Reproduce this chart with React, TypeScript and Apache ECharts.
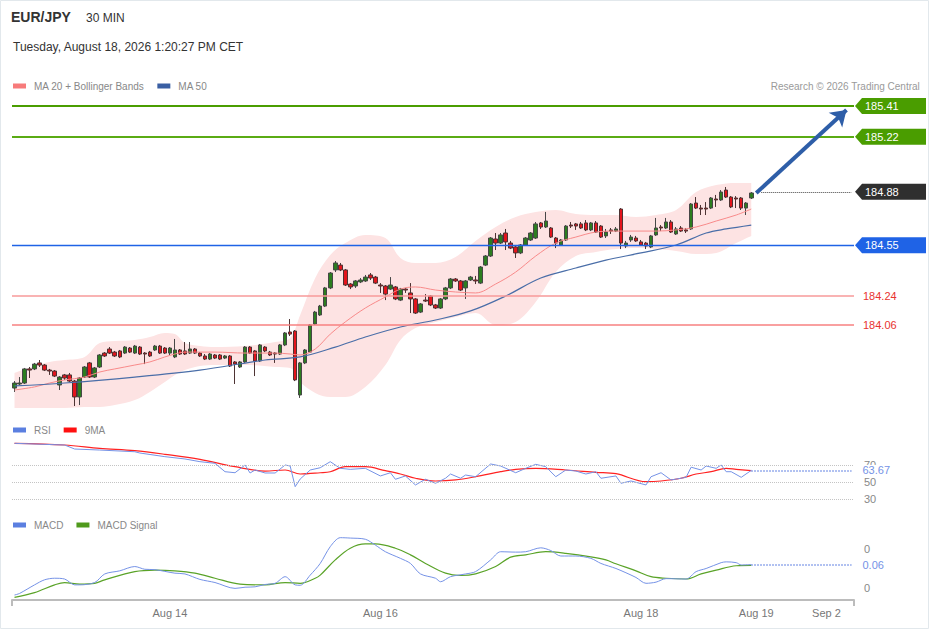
import React, { useEffect, useRef } from "react";
import * as echarts from "echarts";

const FONT = '"Liberation Sans", Arial, Helvetica, sans-serif';

// ---------- axis categories / tick labels ----------
const categoryCount = 168;
const dateLabels = ["Aug 14", "Aug 16", "Aug 18", "Aug 19", "Sep 2"];
const dateLabelIdx = [31, 73, 125, 148, 162];

// ---------- price candles: [open, close, low, high] ----------
const candles = [
  [183.669, 183.700, 183.645, 183.712], [183.694, 183.700, 183.688, 183.737], [183.700, 183.787, 183.694, 183.793],
  [183.787, 183.780, 183.731, 183.799], [183.787, 183.817, 183.780, 183.824], [183.824, 183.811, 183.799, 183.842],
  [183.811, 183.780, 183.774, 183.817], [183.780, 183.774, 183.750, 183.787], [183.774, 183.743, 183.737, 183.780],
  [183.688, 183.737, 183.657, 183.743], [183.750, 183.731, 183.719, 183.756], [183.750, 183.712, 183.706, 183.762],
  [183.712, 183.614, 183.558, 183.719], [183.614, 183.731, 183.564, 183.737], [183.737, 183.799, 183.731, 183.805],
  [183.824, 183.737, 183.731, 183.830], [183.737, 183.793, 183.731, 183.799], [183.799, 183.873, 183.793, 183.879],
  [183.885, 183.867, 183.861, 183.891], [183.910, 183.885, 183.879, 183.922], [183.891, 183.867, 183.861, 183.898],
  [183.898, 183.861, 183.854, 183.904], [183.885, 183.922, 183.879, 183.928], [183.916, 183.891, 183.885, 183.922],
  [183.885, 183.928, 183.879, 183.935], [183.922, 183.879, 183.873, 183.928], [183.885, 183.879, 183.817, 183.891],
  [183.891, 183.867, 183.861, 183.898], [183.904, 183.928, 183.898, 183.935], [183.928, 183.885, 183.879, 183.935],
  [183.916, 183.885, 183.879, 183.922], [183.885, 183.916, 183.873, 183.922], [183.861, 183.904, 183.854, 183.972],
  [183.904, 183.879, 183.873, 183.910], [183.898, 183.879, 183.873, 183.953], [183.885, 183.910, 183.879, 183.953],
  [183.910, 183.885, 183.879, 183.916], [183.885, 183.867, 183.861, 183.891], [183.867, 183.848, 183.842, 183.879],
  [183.848, 183.879, 183.842, 183.885], [183.873, 183.854, 183.848, 183.879], [183.873, 183.848, 183.842, 183.879],
  [183.854, 183.867, 183.848, 183.873], [183.867, 183.805, 183.799, 183.873], [183.830, 183.817, 183.694, 183.836],
  [183.799, 183.830, 183.793, 183.836], [183.830, 183.922, 183.824, 183.928], [183.922, 183.885, 183.879, 183.928],
  [183.898, 183.836, 183.743, 183.904], [183.836, 183.935, 183.830, 183.941], [183.922, 183.898, 183.891, 183.928],
  [183.891, 183.873, 183.867, 183.898], [183.885, 183.879, 183.824, 183.891], [183.879, 183.935, 183.873, 183.941],
  [183.935, 184.009, 183.928, 184.015], [184.015, 184.002, 183.990, 184.095], [184.021, 183.719, 183.712, 184.027],
  [183.626, 183.824, 183.608, 183.830], [183.824, 183.904, 183.817, 183.910], [183.891, 184.058, 183.885, 184.064],
  [184.064, 184.138, 184.058, 184.145], [184.120, 184.175, 184.114, 184.182], [184.175, 184.287, 184.169, 184.293],
  [184.287, 184.379, 184.280, 184.385], [184.398, 184.441, 184.385, 184.453], [184.428, 184.398, 184.391, 184.441],
  [184.398, 184.305, 184.299, 184.404], [184.311, 184.293, 184.280, 184.317], [184.299, 184.330, 184.287, 184.336],
  [184.324, 184.336, 184.317, 184.348], [184.330, 184.354, 184.324, 184.367], [184.367, 184.348, 184.336, 184.379],
  [184.354, 184.317, 184.311, 184.361], [184.305, 184.299, 184.256, 184.317], [184.299, 184.249, 184.212, 184.305],
  [184.280, 184.305, 184.274, 184.354], [184.293, 184.219, 184.212, 184.299], [184.212, 184.280, 184.206, 184.287],
  [184.280, 184.274, 184.256, 184.287], [184.256, 184.219, 184.132, 184.317], [184.219, 184.132, 184.126, 184.225],
  [184.138, 184.188, 184.132, 184.194], [184.212, 184.206, 184.200, 184.249], [184.237, 184.182, 184.175, 184.243],
  [184.182, 184.163, 184.157, 184.188], [184.163, 184.219, 184.157, 184.225], [184.219, 184.287, 184.212, 184.293],
  [184.287, 184.342, 184.280, 184.348], [184.342, 184.330, 184.324, 184.348], [184.330, 184.274, 184.268, 184.336],
  [184.287, 184.330, 184.219, 184.336], [184.336, 184.354, 184.330, 184.361], [184.336, 184.330, 184.311, 184.361],
  [184.317, 184.416, 184.311, 184.422], [184.428, 184.484, 184.422, 184.490], [184.484, 184.595, 184.478, 184.601],
  [184.589, 184.564, 184.521, 184.626], [184.564, 184.614, 184.558, 184.626], [184.626, 184.571, 184.521, 184.651],
  [184.564, 184.533, 184.527, 184.577], [184.540, 184.503, 184.472, 184.546], [184.503, 184.552, 184.496, 184.558],
  [184.552, 184.595, 184.546, 184.601], [184.583, 184.626, 184.577, 184.632], [184.595, 184.682, 184.589, 184.694],
  [184.688, 184.663, 184.651, 184.694], [184.663, 184.700, 184.657, 184.756], [184.657, 184.601, 184.595, 184.663],
  [184.595, 184.564, 184.533, 184.601], [184.552, 184.583, 184.546, 184.589], [184.583, 184.669, 184.577, 184.675],
  [184.675, 184.669, 184.657, 184.694], [184.682, 184.669, 184.645, 184.688], [184.682, 184.657, 184.651, 184.694],
  [184.688, 184.645, 184.638, 184.706], [184.645, 184.688, 184.638, 184.694], [184.688, 184.632, 184.626, 184.700],
  [184.669, 184.601, 184.595, 184.675], [184.608, 184.632, 184.595, 184.651], [184.645, 184.638, 184.620, 184.657],
  [184.638, 184.651, 184.632, 184.663], [184.774, 184.564, 184.527, 184.780], [184.546, 184.564, 184.533, 184.577],
  [184.583, 184.601, 184.571, 184.614], [184.595, 184.577, 184.571, 184.608], [184.571, 184.552, 184.546, 184.583],
  [184.564, 184.546, 184.527, 184.571], [184.540, 184.608, 184.533, 184.614], [184.614, 184.657, 184.608, 184.719],
  [184.663, 184.657, 184.638, 184.675], [184.657, 184.694, 184.651, 184.719], [184.694, 184.632, 184.626, 184.706],
  [184.620, 184.651, 184.614, 184.663], [184.657, 184.638, 184.632, 184.669], [184.645, 184.638, 184.626, 184.657],
  [184.651, 184.805, 184.645, 184.811], [184.811, 184.780, 184.774, 184.848], [184.780, 184.774, 184.737, 184.799],
  [184.780, 184.774, 184.737, 184.817], [184.780, 184.842, 184.774, 184.848], [184.836, 184.830, 184.787, 184.861],
  [184.830, 184.879, 184.824, 184.891], [184.891, 184.848, 184.842, 184.910], [184.848, 184.787, 184.780, 184.854],
  [184.842, 184.836, 184.780, 184.854], [184.842, 184.780, 184.768, 184.848], [184.780, 184.811, 184.737, 184.817],
  [184.842, 184.873, 184.836, 184.879],
];

// ---------- Bollinger bands / MA20 (read at these candle indices) ----------
const bbIdx = [0, 4, 7, 10, 14, 17, 20, 24, 27, 30, 32, 34, 37, 40, 46, 52, 55, 57, 60, 63, 66, 70, 74, 77, 80, 84, 88, 92, 96, 100, 104, 108, 112, 116, 120, 124, 128, 132, 136, 140, 144, 147];
const bbUpper = [183.762, 183.805, 183.830, 183.842, 183.861, 183.947, 183.959, 183.966, 183.984, 184.009, 184.002, 183.947, 183.928, 183.922, 183.928, 183.953, 183.978, 184.120, 184.348, 184.490, 184.564, 184.614, 184.595, 184.472, 184.441, 184.441, 184.478, 184.577, 184.663, 184.725, 184.756, 184.768, 184.743, 184.737, 184.737, 184.725, 184.737, 184.768, 184.879, 184.922, 184.935, 184.935];
const bbLower = [183.546, 183.546, 183.546, 183.546, 183.552, 183.552, 183.564, 183.595, 183.645, 183.706, 183.750, 183.780, 183.805, 183.811, 183.811, 183.799, 183.793, 183.706, 183.639, 183.614, 183.614, 183.676, 183.811, 183.966, 184.040, 184.077, 184.108, 184.132, 184.058, 184.077, 184.200, 184.385, 184.484, 184.509, 184.527, 184.533, 184.527, 184.515, 184.496, 184.503, 184.564, 184.608];
const ma20 = [183.657, 183.676, 183.700, 183.719, 183.737, 183.768, 183.787, 183.811, 183.830, 183.861, 183.879, 183.891, 183.891, 183.891, 183.885, 183.885, 183.879, 183.873, 183.910, 184.002, 184.077, 184.163, 184.231, 184.280, 184.293, 184.274, 184.262, 184.256, 184.311, 184.385, 184.484, 184.564, 184.601, 184.632, 184.638, 184.638, 184.638, 184.645, 184.663, 184.700, 184.737, 184.774];

// ---------- MA50 ----------
const ma50Idx = [0, 10, 24, 37, 50, 57, 64, 70, 77, 84, 91, 98, 105, 112, 118, 125, 132, 138, 142, 147];
const ma50 = [183.682, 183.700, 183.737, 183.780, 183.842, 183.861, 183.922, 183.984, 184.046, 184.089, 184.145, 184.237, 184.348, 184.410, 184.459, 184.503, 184.552, 184.626, 184.651, 184.675];

// ---------- RSI and its 9MA: [candle index, value] ----------
const rsi = [
  [0, 95.5], [10, 93.5], [12, 88.8], [17, 87.6], [24, 85.6], [25, 84.1], [30, 79.8], [34, 77.1], [37, 73.9], [40, 72.0],
  [42, 62.1], [44, 60.9], [46, 70.0], [47, 60.6], [48, 64.1], [50, 60.6], [52, 60.6], [54, 70.0], [55, 68.8], [56, 44.5],
  [57, 53.5], [59, 64.1], [61, 66.8], [63, 73.9], [65, 66.1], [67, 64.9], [70, 66.1], [73, 57.1], [75, 60.9], [76, 53.2],
  [78, 57.1], [80, 46.5], [82, 53.2], [84, 48.5], [86, 54.4], [87, 59.4], [89, 54.4], [90, 58.2], [92, 56.2], [95, 71.2],
  [97, 68.8], [100, 60.9], [102, 66.1], [104, 70.8], [106, 68.0], [108, 56.2], [110, 64.1], [112, 62.9], [114, 59.4], [116, 62.1],
  [117, 54.4], [120, 57.1], [121, 48.5], [123, 51.2], [126, 46.5], [127, 56.2], [129, 60.9], [131, 52.4], [134, 55.5], [135, 67.4],
  [137, 64.1], [138, 68.8], [140, 66.1], [141, 70.0], [142, 62.1], [143, 62.1], [145, 55.5], [147, 63.67],
];
const rsiMa9 = [
  [0, 95.5], [10, 93.5], [17, 89.6], [24, 86.8], [30, 82.6], [37, 76.7], [44, 68.0], [50, 62.9], [54, 64.1], [57, 59.4],
  [61, 60.9], [63, 62.1], [66, 68.0], [70, 68.0], [74, 63.3], [77, 59.4], [80, 54.4], [84, 51.2], [88, 52.4], [92, 56.2],
  [97, 62.1], [100, 64.9], [104, 66.1], [110, 64.1], [116, 61.4], [120, 59.8], [126, 50.4], [129, 51.2], [133, 54.4], [136, 59.4],
  [139, 62.1], [142, 66.1], [144, 64.9], [147, 63.3],
];
const rsiGuides = [70, 50, 30];
const lastRsi = 63.67;

// ---------- MACD ----------
const macd = [
  [0, -0.018], [1, -0.014], [4, 0.008], [6, 0.021], [8, 0.025], [10, 0.023], [12, 0.008], [13, 0.008], [16, 0.014], [18, 0.036],
  [21, 0.044], [24, 0.055], [26, 0.048], [28, 0.047], [32, 0.038], [34, 0.036], [37, 0.022], [40, 0.014], [44, -0.001], [46, 0.002],
  [48, 0.003], [50, 0.009], [52, 0.012], [54, 0.029], [56, 0.008], [57, 0.007], [59, 0.033], [61, 0.063], [63, 0.106], [65, 0.129],
  [67, 0.128], [70, 0.125], [72, 0.110], [74, 0.093], [77, 0.076], [79, 0.063], [81, 0.036], [84, 0.025], [85, 0.016], [87, 0.029],
  [90, 0.036], [92, 0.042], [95, 0.072], [97, 0.093], [100, 0.092], [102, 0.093], [105, 0.103], [107, 0.096], [109, 0.082], [112, 0.082],
  [115, 0.076], [117, 0.063], [120, 0.050], [122, 0.039], [124, 0.027], [126, 0.012], [128, 0.015], [130, 0.024], [134, 0.023], [136, 0.042],
  [138, 0.050], [141, 0.065], [142, 0.067], [144, 0.065], [145, 0.059], [147, 0.06],
];
const macdSignal = [
  [0, -0.024], [4, -0.012], [8, 0.008], [10, 0.014], [13, 0.010], [16, 0.012], [18, 0.021], [24, 0.042], [28, 0.046], [32, 0.044],
  [36, 0.038], [40, 0.025], [45, 0.010], [50, 0.008], [54, 0.014], [57, 0.012], [60, 0.025], [61, 0.033], [64, 0.072], [67, 0.102],
  [70, 0.113], [72, 0.113], [76, 0.102], [79, 0.085], [82, 0.063], [86, 0.038], [89, 0.032], [92, 0.036], [96, 0.055], [99, 0.079],
  [102, 0.085], [106, 0.093], [110, 0.089], [115, 0.080], [118, 0.072], [120, 0.062], [124, 0.044], [127, 0.029], [130, 0.025], [134, 0.023],
  [137, 0.036], [140, 0.046], [144, 0.057], [147, 0.058],
];
const macdLabelValues = [0, 0.1];
const lastMacd = 0.06;

// ---------- levels ----------
const resistanceLevels = [185.41, 185.22];
const pivotLevel = 184.55;
const supportLevels = [184.24, 184.06];
const lastPrice = 184.88;
const targetPrice = 185.385;

const GREEN = "#4a9d00";
const BLUE = "#1f63e6";
const RED_LINE = "#f79a9a";
const RED_TEXT = "#e8332f";
const RSI_BLUE = "#7592e6";

export default function App() {
  const ref = useRef<HTMLDivElement>(null);

  useEffect(() => {
    const chart = echarts.init(ref.current as HTMLDivElement, null, { renderer: "svg" });
    const cats = Array.from({ length: categoryCount }, (_, i) => String(i));
    const labelFor = (idx: number) => {
      const k = dateLabelIdx.indexOf(idx);
      return k >= 0 ? dateLabels[k] : "";
    };
    const lastIdx = candles.length - 1;
    const endIdx = categoryCount - 1;

    const xBase = (gridIndex: number) => ({
      type: "category",
      gridIndex,
      data: cats,
      boundaryGap: true,
      axisLine: { show: false, onZero: false },
      axisTick: { show: false },
      axisLabel: { show: false },
      splitLine: { show: false },
    });

    const hLine = (value: number, color: string, width: number, label?: any) => ({
      yAxis: value,
      lineStyle: { color, width, type: "solid" },
      label: label || { show: false },
    });

    const option: any = {
      animation: false,
      backgroundColor: "#ffffff",
      textStyle: { fontFamily: FONT },
      title: [
        { text: "EUR/JPY", left: 11, top: 10, padding: 0, textStyle: { fontSize: 14, fontWeight: "bold", color: "#333", fontFamily: FONT } },
        { text: "30 MIN", left: 86, top: 12, padding: 0, textStyle: { fontSize: 12, fontWeight: "normal", color: "#333", fontFamily: FONT } },
        { text: "Tuesday, August 18, 2026 1:20:27 PM CET", left: 13, top: 41, padding: 0, textStyle: { fontSize: 12, fontWeight: "normal", color: "#333", fontFamily: FONT } },
        { text: "Research © 2026 Trading Central", right: 9, top: 81, padding: 0, textStyle: { fontSize: 10, fontWeight: "normal", color: "#9a9a9a", fontFamily: FONT } },
      ],
      legend: [
        { data: ["MA 20 + Bollinger Bands", "MA 50"], left: 13, top: 81 },
        { data: ["RSI", "9MA"], left: 13, top: 425 },
        { data: ["MACD", "MACD Signal"], left: 13, top: 520 },
      ].map((l) => ({
        ...l,
        padding: 0,
        icon: "rect",
        itemWidth: 13,
        itemHeight: 5,
        itemGap: 13,
        selectedMode: false,
        textStyle: { fontSize: 10, color: "#888", fontFamily: FONT, padding: [0, 0, 0, 3] },
      })),
      grid: [
        { left: 12, right: 75, top: 96, height: 314, outerBoundsMode: "none" },
        { left: 12, right: 75, top: 440, height: 76, outerBoundsMode: "none" },
        { left: 12, right: 75, top: 530, height: 70, outerBoundsMode: "none" },
      ],
      xAxis: [
        xBase(0),
        xBase(1),
        {
          ...xBase(2),
          axisLine: { show: true, onZero: false, lineStyle: { color: "#bcbcbc", width: 2 } },
          axisTick: { show: true, interval: (i: number) => i === 0, length: 6, lineStyle: { color: "#bcbcbc", width: 2 } },
          axisLabel: {
            show: true,
            interval: 0,
            margin: 7,
            color: "#777",
            fontSize: 11,
            fontFamily: FONT,
            formatter: (_v: string, idx: number) => labelFor(idx),
          },
        },
      ],
      yAxis: [
        { type: "value", gridIndex: 0, min: 183.5335, max: 185.4717, show: false, splitLine: { show: false } },
        {
          type: "value",
          gridIndex: 1,
          min: 10,
          max: 99.41,
          position: "right",
          axisLine: { show: false },
          axisTick: { show: false },
          splitLine: { show: false },
          axisLabel: { show: true, customValues: rsiGuides, color: "#888", fontSize: 11, margin: 10, fontFamily: FONT },
        },
        {
          type: "value",
          gridIndex: 2,
          min: -0.0308,
          max: 0.1487,
          position: "right",
          axisLine: { show: false },
          axisTick: { show: false },
          splitLine: { show: false },
          axisLabel: {
            show: true,
            customValues: macdLabelValues,
            color: "#888",
            fontSize: 11,
            margin: 10,
            fontFamily: FONT,
            formatter: (v: number) => String(Math.round(v)),
          },
        },
      ],
      series: [
        {
          name: "bbLower",
          type: "line",
          xAxisIndex: 0,
          yAxisIndex: 0,
          stack: "bb",
          data: bbIdx.map((x, k) => [x, bbLower[k]]),
          symbol: "none",
          smooth: 0.35,
          lineStyle: { opacity: 0 },
          silent: true,
          z: 1,
        },
        {
          name: "bbBand",
          type: "line",
          xAxisIndex: 0,
          yAxisIndex: 0,
          stack: "bb",
          data: bbIdx.map((x, k) => [x, +(bbUpper[k] - bbLower[k]).toFixed(4)]),
          symbol: "none",
          smooth: 0.35,
          lineStyle: { opacity: 0 },
          areaStyle: { color: "#fde3e3", opacity: 1 },
          silent: true,
          z: 1,
        },
        {
          name: "EUR/JPY",
          type: "candlestick",
          xAxisIndex: 0,
          yAxisIndex: 0,
          data: candles,
          barWidth: 4,
          z: 3,
          itemStyle: {
            color: "#2c7d1f",
            color0: "#e3141c",
            borderColor: "#474747",
            borderColor0: "#4d3333",
            borderWidth: 1,
          },
          markLine: {
            silent: true,
            symbol: ["none", "none"],
            symbolSize: 14,
            label: { show: false },
            data: [
              hLine(resistanceLevels[0], GREEN, 2),
              hLine(resistanceLevels[1], "#5aab14", 2),
              hLine(pivotLevel, BLUE, 1.3),
              hLine(supportLevels[0], RED_LINE, 1.5, {
                show: true, position: "end", distance: 9, formatter: supportLevels[0].toFixed(2), color: RED_TEXT, fontSize: 11, fontFamily: FONT,
              }),
              hLine(supportLevels[1], "#f78080", 1.5, {
                show: true, position: "end", distance: 9, formatter: supportLevels[1].toFixed(2), color: RED_TEXT, fontSize: 11, fontFamily: FONT,
              }),
              [
                { coord: [lastIdx + 2, lastPrice], lineStyle: { color: "#444", width: 1, type: "dotted" } },
                { coord: [endIdx, lastPrice] },
              ],
              [
                { coord: [lastIdx + 1, candles[lastIdx][1]], symbol: "none", lineStyle: { color: "#2e5ea8", width: 4, type: "solid" } },
                { coord: [endIdx - 1, targetPrice], symbol: "arrow", symbolSize: 15 },
              ],
            ],
          },
        },
        {
          name: "MA 20 + Bollinger Bands",
          type: "line",
          xAxisIndex: 0,
          yAxisIndex: 0,
          data: bbIdx.map((x, k) => [x, ma20[k]]),
          symbol: "none",
          smooth: 0.35,
          color: "#f77b7b",
          lineStyle: { color: "#f88a8a", width: 1 },
          z: 4,
        },
        {
          name: "MA 50",
          type: "line",
          xAxisIndex: 0,
          yAxisIndex: 0,
          data: ma50Idx.map((x, k) => [x, ma50[k]]),
          symbol: "none",
          smooth: 0.35,
          color: "#3a5fa3",
          lineStyle: { color: "#4a6ea8", width: 1.2 },
          z: 4,
        },
        {
          name: "RSI",
          type: "line",
          xAxisIndex: 1,
          yAxisIndex: 1,
          data: rsi,
          symbol: "none",
          color: "#5b7fe0",
          lineStyle: { color: RSI_BLUE, width: 1 },
          z: 3,
          markLine: {
            silent: true,
            symbol: ["none", "none"],
            label: { show: false },
            data: [
              ...rsiGuides.map((g) => ({ yAxis: g, lineStyle: { color: "#c4c4c4", width: 1, type: "dotted" } })),
              [
                {
                  coord: [lastIdx, lastRsi],
                  lineStyle: { color: RSI_BLUE, width: 1.5, type: "dotted" },
                  label: {
                    show: true, position: "end", distance: 11, formatter: lastRsi.toFixed(2), color: RSI_BLUE,
                    fontSize: 11, fontFamily: FONT, backgroundColor: "#ffffff", padding: [0, 2, 0, 0],
                  },
                },
                { coord: [endIdx, lastRsi] },
              ],
            ],
          },
        },
        {
          name: "9MA",
          type: "line",
          xAxisIndex: 1,
          yAxisIndex: 1,
          data: rsiMa9,
          symbol: "none",
          smooth: 0.35,
          color: "#ff1010",
          lineStyle: { color: "#f22", width: 1.2 },
          z: 2,
        },
        {
          name: "MACD",
          type: "line",
          xAxisIndex: 2,
          yAxisIndex: 2,
          data: macd,
          symbol: "none",
          smooth: 0.3,
          color: "#5b7fe0",
          lineStyle: { color: RSI_BLUE, width: 1 },
          z: 3,
          markLine: {
            silent: true,
            symbol: ["none", "none"],
            label: { show: false },
            data: [
              [
                {
                  coord: [lastIdx, lastMacd],
                  lineStyle: { color: RSI_BLUE, width: 1.5, type: "dotted" },
                  label: {
                    show: true, position: "end", distance: 11, formatter: lastMacd.toFixed(2), color: RSI_BLUE,
                    fontSize: 11, fontFamily: FONT, backgroundColor: "#ffffff", padding: [0, 2, 0, 0],
                  },
                },
                { coord: [endIdx, lastMacd] },
              ],
            ],
          },
        },
        {
          name: "MACD Signal",
          type: "line",
          xAxisIndex: 2,
          yAxisIndex: 2,
          data: macdSignal,
          symbol: "none",
          smooth: 0.35,
          color: "#4f9a1c",
          lineStyle: { color: "#5aa328", width: 1.2 },
          z: 2,
        },
      ],
    };

    chart.setOption(option);

    const tags = [
      { value: resistanceLevels[0], fill: GREEN },
      { value: resistanceLevels[1], fill: GREEN },
      { value: lastPrice, fill: "#2f2f2f" },
      { value: pivotLevel, fill: BLUE },
    ];
    const graphic: any[] = [
      {
        type: "rect",
        silent: true,
        shape: { x: 0.5, y: 0.5, width: 928, height: 628 },
        style: { fill: "none", stroke: "#e2e8ec", lineWidth: 1 },
      },
    ];
    tags.forEach((t) => {
      const y = chart.convertToPixel({ yAxisIndex: 0 } as any, t.value) as number;
      graphic.push({
        type: "group",
        x: 0,
        y,
        z: 100,
        children: [
          {
            type: "polygon",
            shape: { points: [[855, 0], [862, -8], [926, -8], [926, 8], [862, 8]] },
            style: { fill: t.fill },
          },
          {
            type: "text",
            x: 865,
            y: 0,
            style: { text: t.value.toFixed(2), fill: "#ffffff", font: `11px ${FONT}`, verticalAlign: "middle", align: "left" },
          },
        ],
      });
    });
    chart.setOption({ graphic });

    return () => chart.dispose();
  }, []);

  return (
    <div
      ref={ref}
      style={{ position: "fixed", left: 0, top: 0, width: 929, height: 629, background: "#fff" }}
    />
  );
}
